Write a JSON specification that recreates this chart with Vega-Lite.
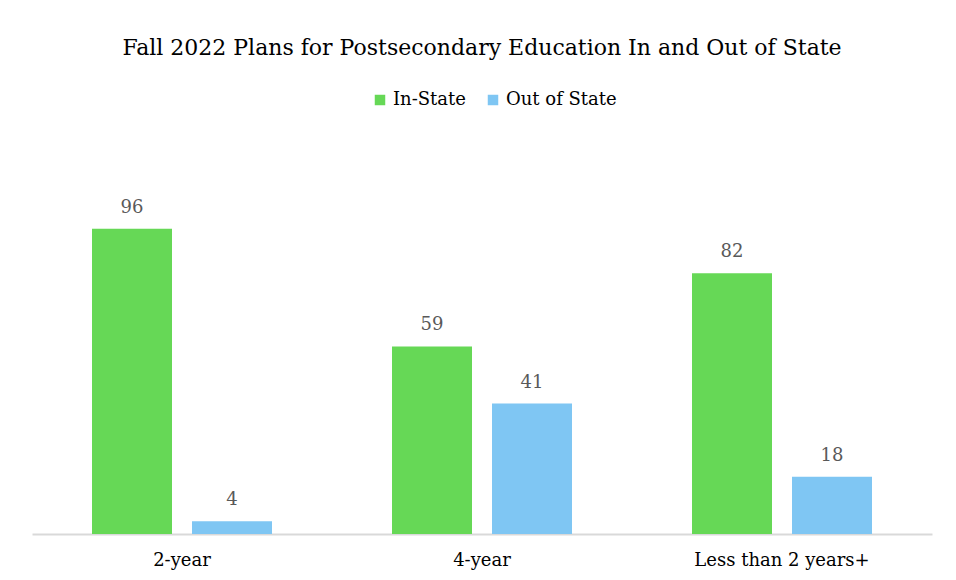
{
  "$schema": "https://vega.github.io/schema/vega-lite/v6.json",
  "width": 900,
  "height": 318,
  "autosize": "none",
  "padding": {"left": 32, "top": 216, "right": 24, "bottom": 46},
  "background": "white",
  "title": {
    "text": "Fall 2022 Plans for Postsecondary Education In and Out of State",
    "font": "DejaVu Serif",
    "fontSize": 22,
    "fontWeight": "normal",
    "color": "#000000",
    "anchor": "middle",
    "offset": 31
  },
  "data": {
    "values": [
      {"category": "2-year", "series": "In-State", "value": 96},
      {"category": "2-year", "series": "Out of State", "value": 4},
      {"category": "4-year", "series": "In-State", "value": 59},
      {"category": "4-year", "series": "Out of State", "value": 41},
      {"category": "Less than 2 years+", "series": "In-State", "value": 82},
      {"category": "Less than 2 years+", "series": "Out of State", "value": 18}
    ]
  },
  "encoding": {
    "x": {
      "field": "category",
      "type": "nominal",
      "sort": ["2-year", "4-year", "Less than 2 years+"],
      "scale": {"paddingInner": 0.4, "paddingOuter": 0.2},
      "axis": {
        "title": null,
        "labelAngle": 0,
        "domainColor": "#d9d9d9",
        "domainWidth": 2,
        "ticks": false,
        "labelFont": "DejaVu Serif",
        "labelFontSize": 18,
        "labelColor": "#000000",
        "labelPadding": 17
      }
    },
    "xOffset": {
      "field": "series",
      "sort": ["In-State", "Out of State"],
      "scale": {"paddingInner": 0.2, "paddingOuter": 0}
    },
    "y": {
      "field": "value",
      "type": "quantitative",
      "scale": {"domain": [0, 100]},
      "axis": null
    }
  },
  "layer": [
    {
      "mark": {"type": "bar"},
      "encoding": {
        "color": {
          "field": "series",
          "type": "nominal",
          "scale": {"domain": ["In-State", "Out of State"], "range": ["#66d856", "#7fc6f3"]},
          "legend": {
            "title": null,
            "orient": "none",
            "direction": "horizontal",
            "legendX": 339,
            "legendY": -125,
            "symbolType": "square",
            "symbolSize": 110,
            "symbolStrokeWidth": 0,
            "labelFont": "DejaVu Serif",
            "labelFontSize": 18,
            "labelColor": "#000000",
            "labelOffset": 4,
            "columnPadding": 18
          }
        }
      }
    },
    {
      "mark": {
        "type": "text",
        "baseline": "bottom",
        "dy": -12,
        "font": "DejaVu Serif",
        "fontSize": 18,
        "color": "#595959"
      },
      "encoding": {"text": {"field": "value", "type": "quantitative"}}
    }
  ],
  "config": {"view": {"stroke": null}}
}
